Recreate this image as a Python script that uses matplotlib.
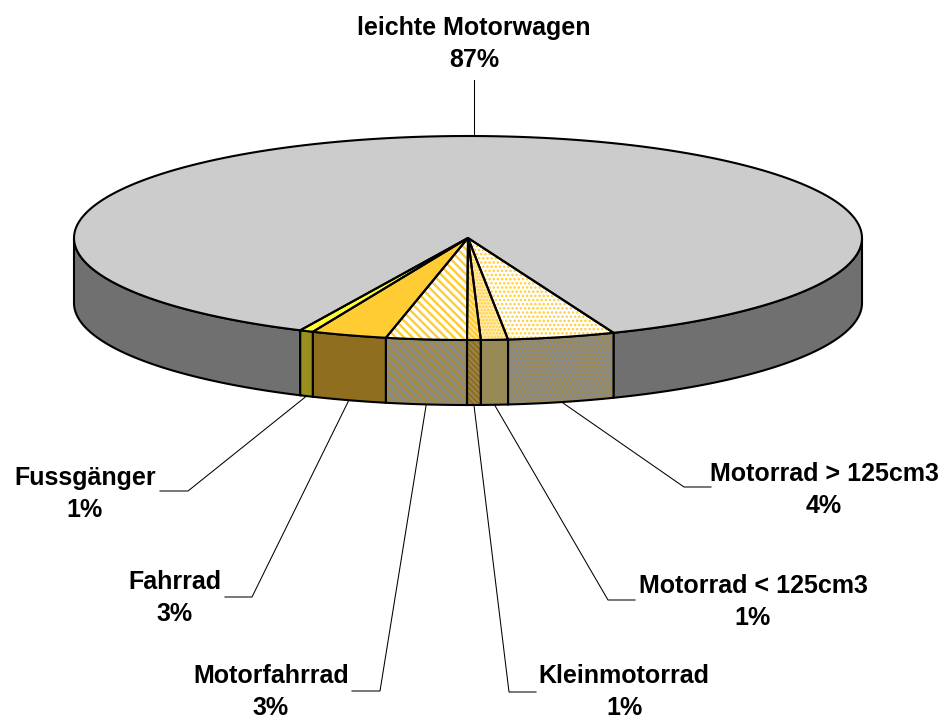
import numpy as np
import matplotlib
matplotlib.use("Agg")
import matplotlib.pyplot as plt
from matplotlib.patches import Polygon

# ---- data ----
categories = ["Fussgänger", "Fahrrad", "Motorfahrrad", "Kleinmotorrad",
              "Motorrad < 125cm3", "Motorrad > 125cm3", "leichte Motorwagen"]
shares = [0.56, 3.1, 3.3, 0.56, 1.1, 4.4, 86.98]
percent_labels = ["1%", "3%", "3%", "1%", "1%", "4%", "87%"]

# ---- styles ----
top_hatch = [None, None, "\\\\\\\\", "\\\\\\\\\\\\", ".....", "....", None]
top_hcol = ["#FFFF33", "#FFCC33", "#FFCC33", "#FFE9A8", "#FFCC33", "#FFCC33", "#CCCCCC"]
top_base = ["#FFFF33", "#FFCC33", "#FFFFFF", "#FFCC33", "#FFEDB8", "#FFFFFF", "#CCCCCC"]
side_face = ["#998F1F", "#8F6F1F", "#8A8A8A", "#8F6F1F", "#948A62", "#8A8A8A", "#707070"]
side_hatch = [None, None, "\\\\\\\\", "\\\\\\\\\\\\", ".....", "....", None]
side_hcol = ["#998F1F", "#8F6F1F", "#A88A30", "#9A8A60", "#A08A40", "#A88A30", "#707070"]
hatch_lw = [1.0, 1.0, 1.7, 1.0, 1.2, 1.2, 1.0]

# ---- layout (pixels) ----
W, H = 947, 720
CX, CY, RX, RY, DEPTH = 468, 238, 394, 102, 65
START_DEG = -25.2
label_xy = [(85, 494), (175, 598), (271, 692), (624, 692), (753, 602), (824, 490), (474, 44)]
elbow = [(188, 491), (252, 597), (380, 691), (509, 692), (608, 600), (684, 487), (474, 80)]
stub = [(160, 491), (225, 597), (352, 691), (536, 692), (635, 600), (711, 487), None]

plt.rcParams["font.family"] = ["Liberation Sans", "DejaVu Sans"]
fig = plt.figure(figsize=(W / 100, H / 100), dpi=100)
ax = fig.add_axes([0, 0, 1, 1])
ax.set_xlim(0, W)
ax.set_ylim(H, 0)
ax.axis("off")


def rim(t0, t1, dy=0.0, n=200):
    t = np.radians(np.linspace(t0, t1, n))
    return np.column_stack([CX + RX * np.sin(t), CY + RY * np.cos(t) + dy])


def hatched(pts, hatch, hcol, hlw, z):
    plt.rcParams["hatch.linewidth"] = hlw
    ax.add_patch(Polygon(pts, closed=True, facecolor="none", edgecolor=hcol,
                         hatch=hatch, lw=0, zorder=z))


def wall(t0, t1, face, hatch=None, hcol=None, hlw=1.0, z=2):
    pts = np.vstack([rim(t0, t1), rim(t0, t1, DEPTH)[::-1]])
    ax.add_patch(Polygon(pts, closed=True, facecolor=face, edgecolor="none", zorder=z))
    if hatch:
        hatched(pts, hatch, hcol, hlw, z + 0.1)
    ax.add_patch(Polygon(pts, closed=True, fill=False, edgecolor="black", lw=1.5, zorder=z + 0.2))


edges = START_DEG + np.concatenate([[0], np.cumsum(shares)]) * 3.6

# outer side walls of the large slice
wall(-90, edges[0], side_face[6], z=1)
wall(edges[6], 90, side_face[6], z=1)
for i in range(6):
    wall(edges[i], edges[i + 1], side_face[i], side_hatch[i], side_hcol[i], hatch_lw[i], z=2)

# top faces
for i in [6, 0, 1, 2, 3, 4, 5]:
    pts = np.vstack([[CX, CY], rim(edges[i], edges[i + 1])])
    ax.add_patch(Polygon(pts, closed=True, facecolor=top_base[i], edgecolor="none", zorder=3))
    if top_hatch[i]:
        hatched(pts, top_hatch[i], top_hcol[i], hatch_lw[i], 3.1)
    ax.add_patch(Polygon(pts, closed=True, fill=False, edgecolor="black", lw=1.5,
                         joinstyle="round", zorder=3.2))

# leader lines and labels
for i, name in enumerate(categories):
    mid = (edges[i] + edges[i + 1]) / 2
    if i == 6:
        start = (elbow[i][0], rim(mid, mid, 0, 1)[0][1])
    else:
        start = tuple(rim(mid, mid, DEPTH, 1)[0])
    pts = [start, elbow[i]]
    if stub[i] is not None:
        pts.append(stub[i])
    xs, ys = zip(*pts)
    ax.plot(xs, ys, color="black", lw=0.75, zorder=0.5, solid_joinstyle="miter")
    ax.text(label_xy[i][0], label_xy[i][1], f"{name}\n{percent_labels[i]}",
            ha="center", va="center", fontsize=18, fontweight="bold",
            linespacing=1.4, color="black", zorder=5)

fig.savefig("out.png", dpi=100, facecolor="white")
